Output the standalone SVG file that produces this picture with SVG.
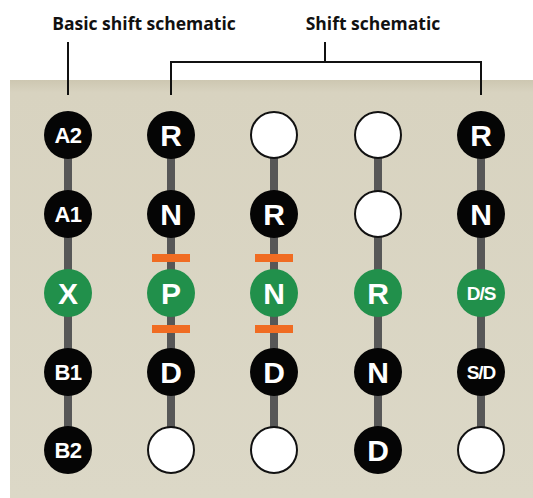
<svg xmlns="http://www.w3.org/2000/svg" width="533" height="498" viewBox="0 0 533 498">
  <defs>
    <linearGradient id="panelGrad" x1="0" y1="0" x2="0" y2="1">
      <stop offset="0" stop-color="#cdc7b1"/>
      <stop offset="0.03" stop-color="#d8d3c0"/>
      <stop offset="1" stop-color="#dcd8c7"/>
    </linearGradient>
  </defs>
  <style>
    .hdr { font-family: "Open Sans", "Noto Sans", sans-serif; font-weight: bold; font-size: 17.5px; fill: #111; text-anchor: middle; }
    .ln { stroke: #111; stroke-width: 2; fill: none; }
    .bar { fill: #575757; }
    .det { fill: #f06c22; }
    .blk { fill: #050505; }
    .grn { fill: #21904b; }
    .wht { fill: #ffffff; stroke: #111; stroke-width: 2; }
    .lbl { font-family: "Liberation Sans", Arial, sans-serif; font-weight: bold; fill: #ffffff; text-anchor: middle; }
    .big { font-size: 30px; }
    .mid { font-size: 22px; letter-spacing: -0.5px; }
    .sml { font-size: 19px; letter-spacing: -1px; }
  </style>

  <rect id="panel" x="10" y="80" width="523" height="418" fill="url(#panelGrad)"/>

  <g id="headers">
    <text class="hdr" x="144" y="30">Basic shift schematic</text>
    <text class="hdr" x="373" y="30">Shift schematic</text>
    <path class="ln" d="M68 42 V95"/>
    <path class="ln" d="M171 95 V62 H481 V95 M325 42 V62"/>
  </g>

  <g id="connectors">
    <rect class="bar" x="64" y="135" width="8" height="315"/>
    <rect class="bar" x="167" y="135" width="8" height="315"/>
    <rect class="bar" x="270" y="135" width="8" height="315"/>
    <rect class="bar" x="374" y="135" width="8" height="315"/>
    <rect class="bar" x="477" y="135" width="8" height="315"/>
  </g>

  <g id="detents">
    <rect class="det" x="152" y="254" width="38" height="8"/>
    <rect class="det" x="152" y="325" width="38" height="8"/>
    <rect class="det" x="255" y="254" width="38" height="8"/>
    <rect class="det" x="255" y="325" width="38" height="8"/>
  </g>

  <!-- Column 1: basic shift schematic -->
  <g id="c1-A2"><circle class="blk" cx="68" cy="135" r="24"/><text class="lbl mid" x="68" y="143">A2</text></g>
  <g id="c1-A1"><circle class="blk" cx="68" cy="214" r="24"/><text class="lbl mid" x="68" y="222">A1</text></g>
  <g id="c1-X"><circle class="grn" cx="68" cy="293" r="24"/><text class="lbl big" x="68" y="304">X</text></g>
  <g id="c1-B1"><circle class="blk" cx="68" cy="372" r="24"/><text class="lbl mid" x="68" y="380">B1</text></g>
  <g id="c1-B2"><circle class="blk" cx="68" cy="450" r="24"/><text class="lbl mid" x="68" y="458">B2</text></g>

  <!-- Column 2 -->
  <g id="c2-R"><circle class="blk" cx="171" cy="135" r="24"/><text class="lbl big" x="171" y="146">R</text></g>
  <g id="c2-N"><circle class="blk" cx="171" cy="214" r="24"/><text class="lbl big" x="171" y="225">N</text></g>
  <g id="c2-P"><circle class="grn" cx="171" cy="293" r="24"/><text class="lbl big" x="171" y="304">P</text></g>
  <g id="c2-D"><circle class="blk" cx="171" cy="372" r="24"/><text class="lbl big" x="171" y="383">D</text></g>
  <g id="c2-E"><circle class="wht" cx="171" cy="450" r="23"/></g>

  <!-- Column 3 -->
  <g id="c3-E1"><circle class="wht" cx="274" cy="135" r="23"/></g>
  <g id="c3-R"><circle class="blk" cx="274" cy="214" r="24"/><text class="lbl big" x="274" y="225">R</text></g>
  <g id="c3-N"><circle class="grn" cx="274" cy="293" r="24"/><text class="lbl big" x="274" y="304">N</text></g>
  <g id="c3-D"><circle class="blk" cx="274" cy="372" r="24"/><text class="lbl big" x="274" y="383">D</text></g>
  <g id="c3-E2"><circle class="wht" cx="274" cy="450" r="23"/></g>

  <!-- Column 4 -->
  <g id="c4-E1"><circle class="wht" cx="378" cy="135" r="23"/></g>
  <g id="c4-E2"><circle class="wht" cx="378" cy="214" r="23"/></g>
  <g id="c4-R"><circle class="grn" cx="378" cy="293" r="24"/><text class="lbl big" x="378" y="304">R</text></g>
  <g id="c4-N"><circle class="blk" cx="378" cy="372" r="24"/><text class="lbl big" x="378" y="383">N</text></g>
  <g id="c4-D"><circle class="blk" cx="378" cy="450" r="24"/><text class="lbl big" x="378" y="461">D</text></g>

  <!-- Column 5 -->
  <g id="c5-R"><circle class="blk" cx="481" cy="135" r="24"/><text class="lbl big" x="481" y="146">R</text></g>
  <g id="c5-N"><circle class="blk" cx="481" cy="214" r="24"/><text class="lbl big" x="481" y="225">N</text></g>
  <g id="c5-DS"><circle class="grn" cx="481" cy="293" r="24"/><text class="lbl sml" x="481" y="300">D/S</text></g>
  <g id="c5-SD"><circle class="blk" cx="481" cy="372" r="24"/><text class="lbl sml" x="481" y="379">S/D</text></g>
  <g id="c5-E"><circle class="wht" cx="481" cy="450" r="23"/></g>
</svg>
